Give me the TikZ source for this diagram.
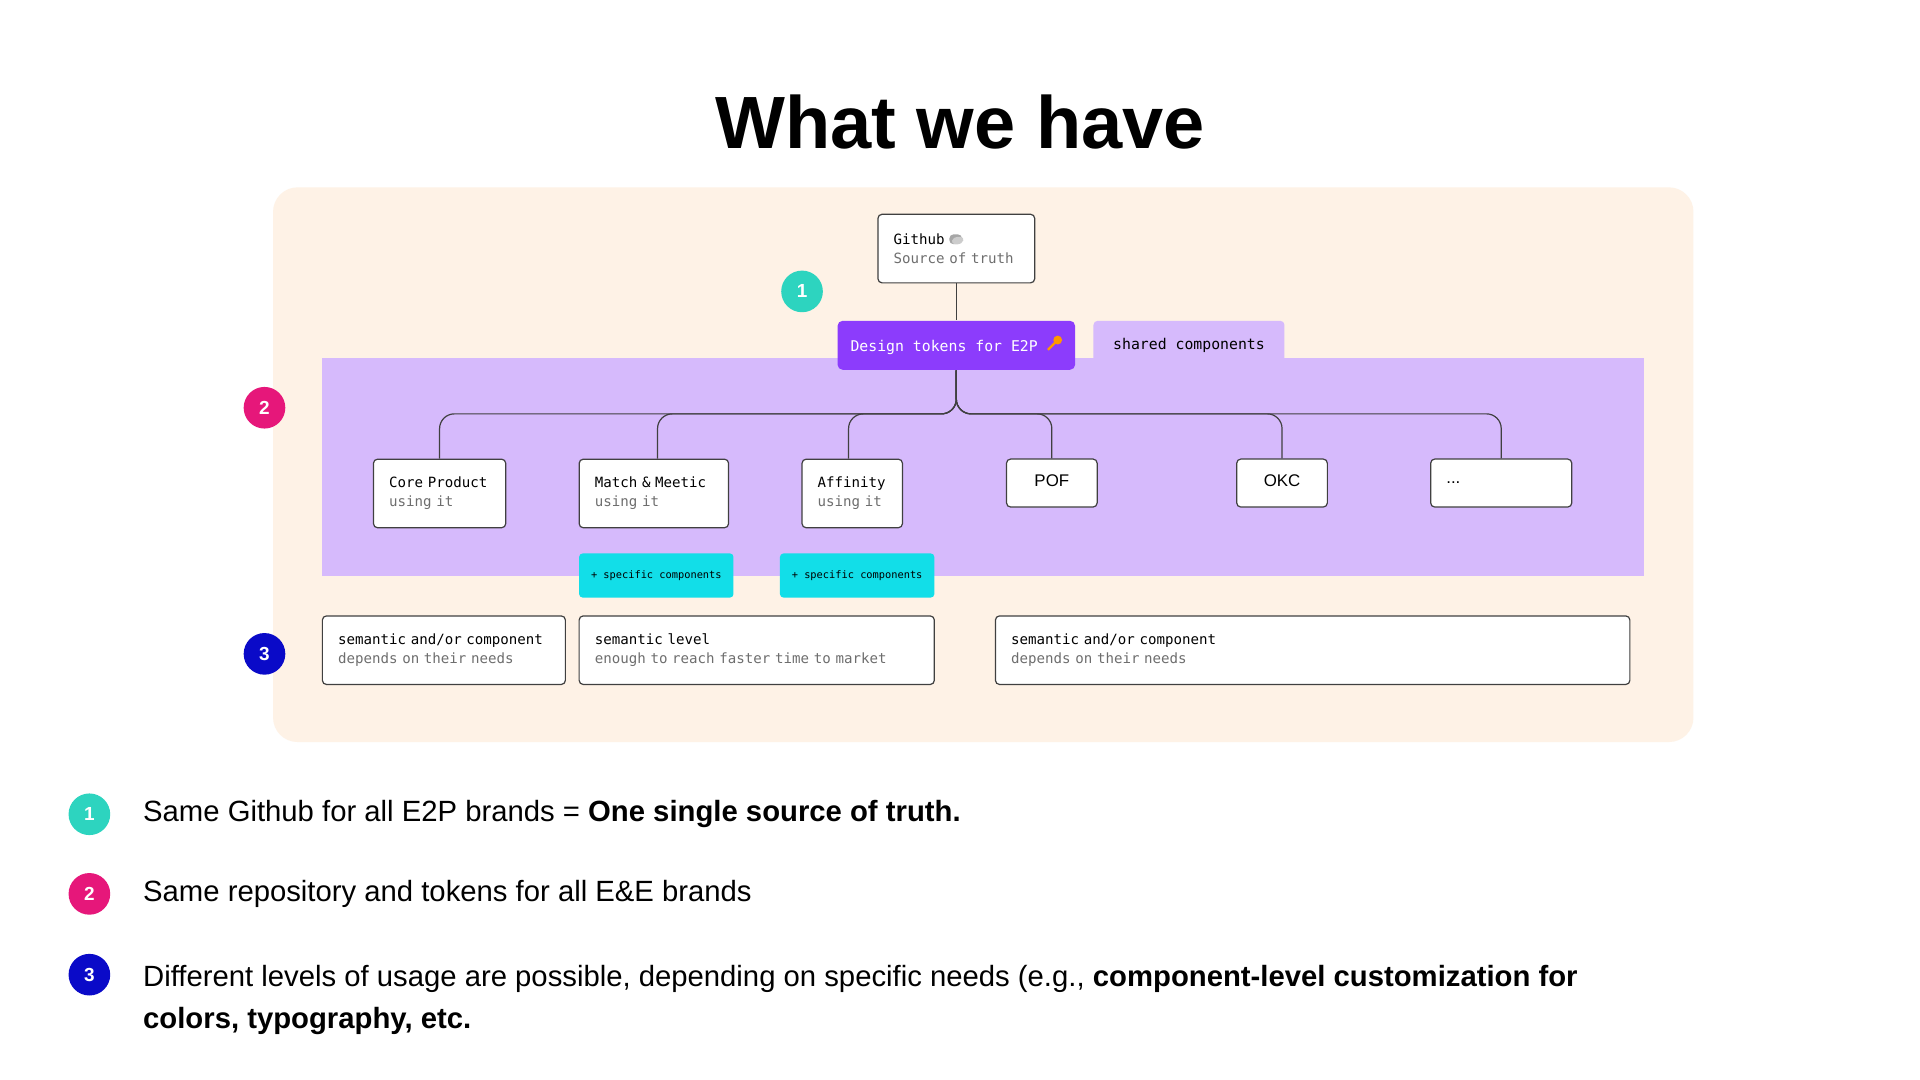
\documentclass[tikz,border=0pt]{standalone}
\usepackage{fontspec}
\setmainfont{Liberation Sans}
\setmonofont[WordSpace={1,0,0}]{DejaVu Sans Mono}
\usetikzlibrary{positioning}

\definecolor{beige}{HTML}{FEF2E6}
\definecolor{lavender}{HTML}{D6BAFC}
\definecolor{violet}{HTML}{8C3CFC}
\definecolor{cyanbox}{HTML}{12DEE8}
\definecolor{teal}{HTML}{2DD4BF}
\definecolor{magenta}{HTML}{E6177A}
\definecolor{navy}{HTML}{0A0AC8}
\definecolor{subgray}{HTML}{6E6E6E}

\tikzstyle{box} = [draw=black!75, fill=white, rounded corners=1.2pt, line width=0.35pt, inner xsep=0.16cm, align=left, font=\ttfamily\fontsize{4.1}{5.6}\selectfont]
\tikzstyle{brand} = [draw=black!75, fill=white, rounded corners=1.2pt, line width=0.35pt, font=\fontsize{4.9}{6}\selectfont]
\tikzstyle{extra} = [fill=cyanbox, rounded corners=1pt, minimum width=1.575cm, minimum height=0.45cm, font=\ttfamily\fontsize{3}{4}\selectfont]
\tikzstyle{num} = [circle, minimum size=0.425cm, inner sep=0, text=white, font=\bfseries\fontsize{5.5}{6}\selectfont]
\tikzstyle{link} = [draw=black!75, line width=0.35pt, rounded corners=0.15cm]
\tikzstyle{bullet} = [anchor=west, align=left, font=\fontsize{8.5}{12.2}\selectfont]

\begin{document}
\begin{tikzpicture}[x=0.0125cm,y=-0.0125cm]
  \useasboundingbox[fill=white] (0,0) rectangle (1568,882);

%Background
  \node[font=\bfseries\fontsize{21.5}{26}\selectfont] (title) at (784,100) {What we have};
  \fill[beige, rounded corners=0.25cm] (223,153) rectangle (1383,606);
  \fill[lavender, rounded corners=1.2pt] (893,262) rectangle (1049,300);
  \fill[lavender] (263,292) rectangle (1343,470);

%Nodes
  \node[box, text width=1.28cm, minimum height=0.7cm] (gh) at (781,203)
    {Github \tikz[x=1cm,y=1cm,baseline]{\fill[gray!70] (0,0) rectangle (0.13,0.1); \fill[gray!40] (0.015,0) -- (0.04,0.075) -- (0.155,0.075) -- (0.13,0) -- cycle;}\\ \textcolor{subgray}{Source of truth}};
  \node[fill=violet, rounded corners=1.5pt, minimum width=2.425cm, minimum height=0.5cm, text=white, font=\ttfamily\fontsize{4.3}{5}\selectfont] (tok) at (781,282)
    {Design tokens for E2P \tikz[x=1cm,y=1cm,baseline]{\draw[orange!80!yellow, line width=0.7pt] (0,0.02) -- (0.08,0.1); \fill[orange!80!yellow] (0.1,0.12) circle (0.045);}};
  \node[font=\ttfamily\fontsize{4.3}{5}\selectfont] (shared) at (971,282) {shared components};

  \node[box, text width=1.03cm, minimum height=0.7cm] (core) at (359,403) {Core Product\\ \textcolor{subgray}{using it}};
  \node[box, text width=1.205cm, minimum height=0.7cm] (match) at (534,403) {Match \& Meetic\\ \textcolor{subgray}{using it}};
  \node[box, text width=0.705cm, minimum height=0.7cm] (affinity) at (696,403) {Affinity\\ \textcolor{subgray}{using it}};
  \node[brand, minimum width=0.925cm, minimum height=0.49cm, text depth=0.06cm] (pof) at (859,394.5) {POF};
  \node[brand, minimum width=0.925cm, minimum height=0.49cm, text depth=0.06cm] (okc) at (1047,394.5) {OKC};
  \node[brand, minimum width=1.44cm, minimum height=0.49cm, text width=1.12cm] (more) at (1226,394.5) {...};

  \node[extra] (spec1) at (536,470) {+ specific components};
  \node[extra] (spec2) at (700,470) {+ specific components};

  \node[box, text width=2.16cm, minimum height=0.7cm] (lvl1) at (362.5,531) {semantic and/or component\\ \textcolor{subgray}{depends on their needs}};
  \node[box, text width=3.305cm, minimum height=0.7cm] (lvl2) at (618,531) {semantic level\\ \textcolor{subgray}{enough to reach faster time to market}};
  \node[box, text width=6.155cm, minimum height=0.7cm] (lvl3) at (1072,531) {semantic and/or component\\ \textcolor{subgray}{depends on their needs}};

  \node[num, fill=teal] (n1) at (655,238) {1};
  \node[num, fill=magenta] (n2) at (216,333) {2};
  \node[num, fill=navy] (n3) at (216,534) {3};

%Connections
  \draw[link] (gh) -- (tok);
  \foreach \c/\x in {core/359, match/537, affinity/693, pof/859, okc/1047, more/1226}
    \draw[link] (tok.south) |- (\x,338) -- (\c.north -| \x,0);

%Legend
  \node[num, fill=teal] (l1) at (73,665) {1};
  \node[num, fill=magenta] (l2) at (73,730) {2};
  \node[num, fill=navy] (l3) at (73,796) {3};
  \node[bullet] (t1) at (107,665) {Same Github for all E2P brands = \textbf{One single source of truth.}};
  \node[bullet] (t2) at (107,730) {Same repository and tokens for all E\&E brands};
  \node[bullet, anchor=north west] (t3) at (107,778) {Different levels of usage are possible, depending on specific needs (e.g., \textbf{component-level customization for}\\ \textbf{colors, typography, etc.}};
\end{tikzpicture}
\end{document}
